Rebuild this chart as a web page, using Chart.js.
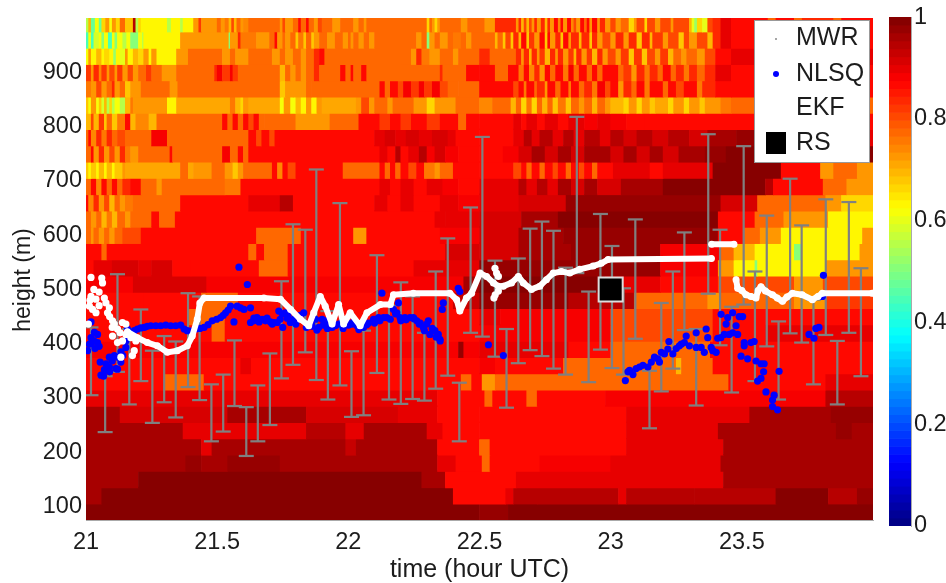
<!DOCTYPE html>
<html>
<head>
<meta charset="utf-8">
<script src="https://cdn.jsdelivr.net/npm/chart.js@4/dist/chart.umd.min.js"></script>
<style>
  html, body { margin: 0; background: #fff; overflow: hidden; }
  canvas { position: absolute; left: 0; top: 0; filter: blur(0.5px); }
</style>
</head>
<body>
<canvas id="mainChart" width="946" height="583"></canvas>
<canvas id="colorbar" width="946" height="583"></canvas>
<script>
const xTicks = [21, 21.5, 22, 22.5, 23, 23.5];
const yTicks = [100, 200, 300, 400, 500, 600, 700, 800, 900];
const colorbarTicks = [0, 0.2, 0.4, 0.6, 0.8, 1];
const legendNames = ['MWR', 'NLSQ', 'EKF', 'RS'];

/* Heatmap rows: each run is [end time, value], a run starts where the last one ended */
const row990 = [[21.01,.55],[21.02,.7],[21.035,.47],[21.05,.62],[21.06,.47],[21.075,.66],[21.09,.72],[21.1,.62],[21.115,.72],[21.13,.66],[21.15,.78],[21.18,.68],[21.19,.95],[21.2,.55],[21.21,.66],[21.31,.63],[21.325,.55],[21.36,.63],[21.37,.56],[21.41,.63],[21.43,.72],[21.44,.82],[21.5,.72],[21.515,.78],[21.53,.72],[21.545,.76],[21.555,.7],[21.565,.8],[21.575,.7],[21.59,.78],[21.6,.72],[21.62,.74],[21.74,.78],[21.75,.72],[21.76,.8],[21.79,.72],[21.81,.78],[21.82,.86],[21.84,.78],[21.85,.86],[21.87,.78],[21.885,.72],[21.9,.8],[21.94,.78],[21.97,.72],[22.02,.78],[22.04,.72],[22.06,.78],[22.07,.72],[22.3,.78],[22.31,.66],[22.32,.78],[22.33,.72],[22.34,.66],[22.35,.72],[22.43,.78],[22.455,.72],[22.52,.78],[22.56,.72],[22.64,.84],[22.65,.72],[22.66,.84],[22.67,.7],[22.68,.8],[22.69,.7],[22.7,.8],[22.71,.72],[22.72,.84],[22.735,.72],[22.75,.84],[22.76,.7],[22.77,.84],[22.785,.72],[22.8,.86],[22.81,.74],[22.82,.86],[22.835,.72],[22.85,.86],[22.86,.74],[22.87,.8],[22.885,.72],[22.9,.86],[22.91,.78],[22.92,.86],[22.93,.72],[22.95,.86],[22.96,.72],[22.98,.84],[23.0,.72],[23.02,.8],[23.04,.72],[23.07,.78],[23.09,.66],[23.1,.72],[23.13,.8],[23.14,.66],[23.17,.8],[23.19,.72],[23.23,.8],[23.24,.72],[23.3,.8],[23.31,.7],[23.32,.6],[23.33,.52],[23.35,.66],[23.37,.6],[23.39,.8],[23.42,.84],[23.46,.9],[23.6,.86],[23.63,.78],[23.7,.86],[23.73,.78],[23.85,.84],[23.88,.78],[24,.86]];
const row960 = [[21.01,.45],[21.02,.62],[21.03,.45],[21.05,.58],[21.06,.62],[21.07,.5],[21.085,.62],[21.1,.45],[21.11,.62],[21.12,.5],[21.14,.62],[21.155,.55],[21.17,.62],[21.2,.5],[21.215,.62],[21.22,.56],[21.36,.63],[21.545,.72],[21.55,.5],[21.58,.72],[21.59,.84],[21.65,.76],[21.7,.72],[21.72,.78],[21.73,.86],[21.75,.72],[21.76,.78],[21.78,.72],[21.8,.78],[21.81,.68],[21.83,.76],[21.84,.68],[21.86,.78],[21.87,.68],[21.89,.72],[21.92,.78],[21.95,.72],[21.98,.78],[22,.72],[22.01,.78],[22.02,.72],[22.04,.78],[22.06,.72],[22.08,.78],[22.1,.72],[22.12,.78],[22.26,.78],[22.28,.72],[22.3,.78],[22.31,.5],[22.33,.72],[22.35,.78],[22.38,.72],[22.4,.78],[22.43,.76],[22.45,.78],[22.47,.72],[22.56,.78],[22.57,.7],[22.59,.78],[22.6,.68],[22.62,.8],[22.63,.68],[22.65,.84],[22.66,.7],[22.68,.86],[22.69,.68],[22.71,.82],[22.73,.72],[22.75,.86],[22.76,.68],[22.77,.86],[22.79,.72],[22.81,.84],[22.82,.68],[22.84,.86],[22.85,.72],[22.88,.84],[22.89,.7],[22.92,.84],[22.93,.68],[22.95,.84],[22.97,.72],[23,.8],[23.02,.72],[23.05,.84],[23.07,.72],[23.1,.84],[23.12,.68],[23.15,.84],[23.16,.7],[23.2,.82],[23.22,.72],[23.26,.8],[23.28,.68],[23.3,.8],[23.33,.72],[23.37,.8],[23.39,.7],[23.42,.84],[23.46,.9],[24,.86]];
const row930 = [[21.01,.62],[21.02,.72],[21.04,.63],[21.06,.7],[21.07,.63],[21.09,.66],[21.105,.63],[21.115,.52],[21.13,.63],[21.15,.6],[21.16,.72],[21.18,.63],[21.2,.7],[21.22,.66],[21.24,.72],[21.25,.63],[21.27,.72],[21.345,.63],[21.39,.72],[21.52,.78],[21.55,.72],[21.57,.78],[21.62,.72],[21.71,.78],[21.74,.72],[21.76,.78],[21.79,.72],[21.82,.78],[21.84,.72],[21.87,.78],[21.89,.84],[21.91,.86],[22.2,.78],[22.24,.78],[22.26,.72],[22.28,.84],[22.31,.76],[22.35,.72],[22.4,.78],[22.42,.72],[22.5,.78],[22.54,.84],[22.64,.78],[22.66,.84],[22.67,.72],[22.69,.84],[22.7,.7],[22.72,.84],[22.73,.72],[22.75,.82],[22.77,.7],[22.79,.84],[22.8,.72],[22.82,.84],[22.84,.72],[22.86,.82],[22.87,.7],[22.89,.84],[22.91,.72],[22.93,.82],[22.95,.7],[22.97,.84],[22.99,.72],[23.02,.8],[23.04,.72],[23.07,.82],[23.09,.68],[23.12,.82],[23.14,.68],[23.17,.8],[23.19,.72],[23.22,.82],[23.24,.7],[23.27,.78],[23.29,.72],[23.33,.78],[23.36,.72],[23.4,.8],[23.46,.86],[24,.9]];
const row900 = [[21.02,.82],[21.03,.72],[21.05,.84],[21.06,.74],[21.08,.82],[21.09,.72],[21.11,.8],[21.12,.72],[21.14,.82],[21.16,.72],[21.18,.8],[21.2,.72],[21.23,.78],[21.25,.82],[21.29,.78],[21.345,.72],[21.49,.78],[21.5,.84],[21.52,.88],[21.55,.82],[21.56,.88],[21.58,.82],[21.74,.78],[21.76,.7],[21.78,.78],[21.8,.72],[21.82,.78],[21.84,.72],[21.87,.78],[21.89,.84],[21.97,.78],[21.99,.86],[22.01,.78],[22.02,.86],[22.05,.78],[22.07,.86],[22.35,.78],[22.36,.84],[22.45,.78],[22.5,.86],[22.56,.86],[22.61,.78],[22.65,.86],[22.67,.76],[22.69,.86],[22.71,.74],[22.73,.84],[22.75,.72],[22.77,.86],[22.79,.78],[22.82,.86],[22.84,.76],[22.86,.88],[22.88,.78],[22.91,.86],[22.93,.78],[22.95,.86],[22.97,.78],[23.03,.86],[23.05,.78],[23.08,.82],[23.1,.72],[23.13,.84],[23.15,.76],[23.18,.84],[23.2,.78],[23.23,.86],[23.25,.78],[23.28,.84],[23.3,.76],[23.33,.84],[23.36,.78],[23.4,.84],[23.46,.9],[24,.86]];
const row870 = [[21.02,.76],[21.04,.72],[21.06,.8],[21.08,.72],[21.1,.78],[21.11,.84],[21.13,.72],[21.15,.78],[21.17,.68],[21.21,.72],[21.32,.78],[21.35,.72],[21.74,.78],[21.76,.68],[21.79,.72],[21.84,.72],[21.86,.78],[22.12,.78],[22.14,.86],[22.16,.78],[22.19,.86],[22.21,.8],[22.24,.88],[22.27,.82],[22.29,.88],[22.32,.82],[22.35,.88],[22.38,.8],[22.42,.78],[22.5,.78],[22.63,.86],[22.65,.8],[22.67,.86],[22.68,.76],[22.71,.86],[22.72,.78],[22.75,.84],[22.76,.72],[22.79,.86],[22.81,.78],[22.84,.86],[22.85,.76],[22.88,.86],[22.9,.78],[22.93,.84],[22.95,.76],[22.98,.88],[23,.8],[23.03,.86],[23.05,.72],[23.08,.84],[23.1,.78],[23.13,.86],[23.15,.76],[23.2,.86],[23.22,.78],[23.25,.86],[23.28,.8],[23.33,.86],[23.35,.76],[23.4,.84],[23.46,.86],[24,.86]];
const row840 = [[21.01,.68],[21.02,.62],[21.04,.72],[21.05,.62],[21.06,.68],[21.07,.58],[21.08,.7],[21.09,.56],[21.1,.66],[21.11,.55],[21.13,.62],[21.15,.56],[21.17,.7],[21.18,.76],[21.31,.72],[21.345,.63],[21.55,.71],[21.57,.76],[21.59,.7],[21.6,.66],[21.62,.72],[21.74,.71],[21.755,.62],[21.78,.72],[21.8,.62],[21.82,.7],[21.84,.63],[21.86,.72],[21.88,.64],[21.9,.72],[22.03,.71],[22.05,.72],[22.08,.8],[22.1,.72],[22.15,.78],[22.17,.72],[22.25,.78],[22.3,.72],[22.33,.66],[22.41,.72],[22.5,.78],[22.55,.74],[22.62,.78],[22.64,.7],[22.66,.78],[22.68,.66],[22.7,.76],[22.72,.66],[22.74,.78],[22.76,.7],[22.78,.78],[22.8,.68],[22.83,.76],[22.85,.68],[22.88,.78],[22.9,.72],[22.93,.78],[22.95,.7],[22.98,.78],[23,.72],[23.05,.7],[23.07,.66],[23.1,.72],[23.12,.66],[23.15,.72],[23.17,.68],[23.22,.71],[23.24,.66],[23.28,.72],[23.3,.66],[23.34,.72],[23.36,.68],[23.42,.72],[23.46,.76],[24,.78]];
const row810 = [[21.02,.7],[21.03,.8],[21.05,.7],[21.07,.82],[21.08,.68],[21.1,.78],[21.12,.68],[21.15,.76],[21.17,.86],[21.19,.7],[21.24,.74],[21.27,.7],[21.52,.78],[21.54,.86],[21.56,.78],[21.58,.86],[21.6,.78],[21.62,.86],[21.64,.8],[21.66,.86],[21.68,.78],[21.8,.78],[21.82,.72],[21.93,.72],[22.04,.78],[22.12,.86],[22.16,.82],[22.2,.86],[22.24,.82],[22.3,.86],[22.35,.82],[22.42,.86],[22.45,.78],[22.5,.86],[22.63,.86],[22.66,.9],[22.68,.86],[22.72,.9],[22.75,.86],[22.8,.9],[22.84,.86],[22.9,.9],[22.95,.88],[23,.9],[23.06,.88],[23.13,.86],[24,.86]];
const row780 = [[21.01,.78],[21.02,.86],[21.04,.74],[21.06,.84],[21.08,.76],[21.1,.84],[21.12,.78],[21.15,.8],[21.25,.78],[21.31,.88],[21.62,.78],[21.65,.86],[21.67,.8],[21.7,.86],[21.72,.8],[21.74,.86],[22.1,.86],[22.14,.9],[22.18,.92],[22.22,.9],[22.27,.92],[22.32,.9],[22.38,.92],[22.41,.9],[22.5,.86],[22.63,.86],[22.67,.9],[22.7,.94],[22.73,.9],[22.78,.94],[22.82,.9],[22.86,.94],[22.9,.9],[22.96,.94],[23,.9],[23.05,.94],[23.1,.92],[23.16,.94],[23.22,.92],[23.3,.94],[23.37,.92],[23.48,.96],[23.6,.98],[24,.9]];
const row750 = [[21.02,.78],[21.03,.86],[21.05,.72],[21.07,.84],[21.09,.72],[21.11,.8],[21.13,.72],[21.15,.84],[21.17,.76],[21.2,.72],[21.32,.78],[21.33,.86],[21.52,.78],[21.55,.88],[21.58,.78],[21.6,.86],[21.62,.78],[22.12,.86],[22.15,.9],[22.18,.86],[22.2,.94],[22.23,.86],[22.27,.9],[22.3,.94],[22.33,.88],[22.37,.92],[22.42,.88],[22.5,.86],[22.59,.86],[22.65,.88],[22.7,.92],[22.75,.96],[22.8,.92],[22.85,.96],[22.9,.92],[23,.96],[23.05,.92],[23.1,.96],[23.15,.92],[23.2,.96],[23.26,.92],[23.36,.96],[23.44,.98],[24,1]];
const row720 = [[21.01,.68],[21.02,.64],[21.04,.68],[21.05,.63],[21.07,.7],[21.08,.64],[21.1,.7],[21.11,.64],[21.14,.68],[21.15,.72],[21.36,.71],[21.39,.78],[21.41,.71],[21.48,.72],[21.53,.78],[21.56,.72],[21.58,.68],[21.6,.72],[21.62,.78],[21.71,.78],[21.73,.86],[21.75,.74],[21.77,.86],[21.8,.8],[21.98,.86],[22.12,.78],[22.14,.86],[22.16,.78],[22.18,.86],[22.2,.78],[22.23,.86],[22.26,.8],[22.29,.86],[22.33,.75],[22.35,.72],[22.4,.78],[22.5,.86],[22.63,.86],[22.66,.8],[22.68,.86],[22.7,.78],[22.73,.86],[22.75,.78],[22.78,.86],[22.8,.8],[22.83,.86],[22.85,.78],[22.88,.86],[22.9,.8],[22.93,.86],[22.95,.78],[23.01,.86],[23.15,.9],[23.2,.86],[23.39,.9],[23.65,1],[23.8,.86],[23.85,.72],[23.94,.78],[24,.72]];
const row690 = [[21.02,.78],[21.04,.86],[21.06,.74],[21.08,.86],[21.1,.78],[21.12,.86],[21.14,.78],[21.17,.84],[21.21,.86],[21.27,.78],[21.29,.72],[21.53,.78],[21.59,.76],[22.12,.86],[22.16,.9],[22.2,.86],[22.25,.9],[22.3,.86],[22.36,.9],[22.42,.88],[22.5,.86],[22.65,.9],[22.68,.94],[22.72,.9],[22.76,.94],[22.8,.9],[22.85,.96],[22.9,.92],[22.95,.96],[23.04,.92],[23.2,.96],[23.59,1],[23.62,.94],[23.81,.86],[23.9,.78],[24,.72]];
const row660 = [[21.01,.86],[21.03,.74],[21.05,.84],[21.07,.72],[21.09,.8],[21.11,.7],[21.13,.78],[21.15,.72],[21.18,.76],[21.36,.78],[21.62,.86],[21.74,.9],[21.79,.94],[22.1,.86],[22.15,.9],[22.2,.86],[22.25,.9],[22.35,.86],[22.42,.9],[22.5,.88],[22.65,.9],[22.83,.92],[23.42,.98],[23.56,.92],[23.82,.78],[23.88,.72],[24,.66]];
const row630 = [[21.02,.78],[21.04,.72],[21.06,.78],[21.08,.7],[21.1,.76],[21.12,.7],[21.15,.78],[21.17,.72],[21.25,.78],[21.28,.86],[21.34,.78],[22.33,.86],[22.37,.9],[22.5,.9],[22.66,.92],[22.8,.96],[23.41,.99],[23.55,.86],[23.66,.78],[23.83,.72],[24,.63]];
const row600 = [[21.02,.78],[21.03,.72],[21.05,.78],[21.07,.72],[21.09,.78],[21.11,.72],[21.14,.78],[21.21,.8],[21.65,.86],[21.82,.78],[22.02,.86],[22.07,.72],[22.35,.86],[22.5,.89],[22.65,.92],[22.82,.96],[23.41,.98],[23.51,.86],[23.57,.78],[23.65,.72],[23.96,.63],[24,.72]];
const row570 = [[21.06,.86],[21.08,.78],[21.62,.86],[21.65,.78],[21.68,.86],[21.77,.78],[22.37,.86],[22.5,.91],[22.65,.92],[22.85,.96],[23.19,.98],[23.42,.88],[23.47,.78],[23.55,.7],[23.7,.63],[23.73,.5],[23.95,.63],[24,.72]];
const row540 = [[21.03,.86],[21.1,.9],[21.2,.92],[21.25,.9],[21.33,.92],[21.4,.86],[21.66,.86],[21.77,.78],[22.25,.86],[22.5,.9],[23.19,.98],[23.41,.88],[23.47,.72],[23.55,.63],[23.56,.5],[23.82,.63],[24,.72]];
const row510 = [[21.18,.88],[21.46,.92],[22.44,.88],[22.5,.96],[22.98,1],[23.19,.9],[23.41,.86],[23.47,.8],[23.7,.8],[23.81,.72],[24,.8]];
const row480 = [[21.22,.86],[21.44,.86],[21.58,.78],[22.4,.86],[22.5,.93],[22.84,.97],[23.09,.95],[23.37,.78],[23.42,.72],[23.7,.78],[23.82,.72],[24,.82]];
const row450 = [[21.39,.86],[21.53,.78],[22.5,.86],[22.58,.9],[23.0,.89],[23.39,.8],[24,.86]];
const row420 = [[21.48,.86],[21.53,.78],[22.5,.86],[23.0,.89],[23.39,.8],[23.59,.86],[24,.9]];
const row390 = [[22.42,.89],[22.44,.98],[22.5,.89],[22.84,.9],[23.0,.86],[23.38,.78],[24,.86]];
const row360 = [[21.59,.86],[21.63,.9],[22.5,.86],[22.56,.89],[22.82,.86],[23.25,.78],[23.27,.7],[23.39,.78],[24,.86]];
const row330 = [[21.3,.86],[21.45,.78],[22.43,.86],[22.47,.78],[22.51,.86],[22.56,.72],[23.45,.78],[23.82,.86],[24,.9]];
const row300 = [[22.34,.9],[22.52,.86],[22.55,.78],[22.68,.86],[22.72,.78],[22.98,.86],[23.82,.89],[24,.95]];
const row270 = [[21.13,.96],[21.54,.92],[21.84,.96],[22.19,.92],[22.34,.9],[22.5,.86],[23.06,.86],[23.53,.9],[23.84,.96],[24,.98]];
const row240 = [[21.37,.96],[21.84,.9],[21.99,.94],[22.06,.9],[22.3,.96],[22.36,.9],[22.5,.86],[23.06,.86],[23.41,.9],[23.86,.96],[23.92,.98],[24,.96]];
const row210 = [[21.44,.96],[21.48,.9],[21.99,.96],[22.03,.93],[22.34,.96],[22.5,.86],[22.54,.78],[23.06,.86],[23.43,.9],[24,.96]];
const row180 = [[21.38,.96],[21.44,.98],[21.54,.96],[21.74,.98],[22.34,.96],[22.41,.9],[22.51,.86],[22.54,.78],[22.73,.86],[23,.88],[23.42,.9],[24,.96]];
const row150 = [[21.2,.96],[22.28,1],[22.37,.96],[22.64,.86],[23.43,.9],[24,.96]];
const row120 = [[21.06,.96],[22.4,1],[22.6,.86],[22.63,.9],[22.72,.95],[23.03,.94],[23.06,.9],[23.32,.94],[23.63,.95],[23.83,.99],[23.94,.95],[24,.98]];
const row90 = [[22.5,1],[22.61,.98],[24,1]];

const rowHeights = [90, 120, 150, 180, 210, 240, 270, 300, 330, 360, 390, 420, 450, 480, 510, 540, 570, 600, 630, 660, 690, 720, 750, 780, 810, 840, 870, 900, 930, 960, 990];
const rowRuns = [row90, row120, row150, row180, row210, row240, row270, row300, row330, row360, row390, row420, row450, row480, row510, row540, row570, row600, row630, row660, row690, row720, row750, row780, row810, row840, row870, row900, row930, row960, row990];

/* MWR: scattered dots, then the line */
const mwrDotTime = [21.019,21.06,21.063,21.05,21.019,21.038,21.07,21.076,21.089,21.013,21.038,21.025,21.082,21.009,21.101,21.108,21.139,21.152,21.12,21.101,21.12,21.139,21.152,21.171,21.19,21.184,21.177,21.133,22.559,22.565,22.572,22.555,22.56,22.572,21.03,21.015,21.05,21.09,21.1,21.13];
const mwrDotHeight = [522,521,512,495,487,482,484,475,466,469,457,463,457,436,442,436,439,436,427,414,402,405,417,411,405,387,378,375,539,530,524,484,490,497,500,480,470,450,430,420];
const mwrLineTime = [21.158,21.196,21.234,21.272,21.31,21.348,21.386,21.405,21.424,21.434,21.45,21.678,21.741,21.78,21.817,21.849,21.868,21.893,21.912,21.938,21.963,21.982,22.007,22.045,22.071,22.122,22.16,22.172,22.248,22.387,22.413,22.425,22.45,22.47,22.502,22.527,22.553,22.572,22.591,22.622,22.648,22.667,22.698,22.73,22.755,22.781,22.812,22.844,22.882,22.933,22.964,22.99,23.384,23.385,23.385,23.47,23.475,23.478,23.484,23.5,23.516,23.535,23.554,23.562,23.573,23.59,23.617,23.635,23.655,23.672,23.693,23.73,23.769,23.79,23.807,23.997];
const mwrLineHeight = [422,411,402,396,384,387,396,414,445,475,484,484,482,463,445,433,457,487,469,436,472,436,457,433,457,472,472,490,493,493,481,460,484,493,530,524,512,506,506,512,524,512,500,506,518,530,533,530,537,543,548,555,557,null,583,583,null,518,502,498,490,487,484,498,505,497,490,484,478,486,493,490,481,487,493,493];

const nlsqTime = [21.006,21.019,21.032,21.019,21.044,21.013,21.044,21.034,21.054,21.076,21.089,21.108,21.123,21.133,21.114,21.089,21.076,21.057,21.067,21.12,21.133,21.152,21.152,21.158,21.171,21.184,21.196,21.209,21.222,21.234,21.247,21.266,21.285,21.304,21.323,21.342,21.361,21.374,21.386,21.399,21.418,21.434,21.45,21.465,21.481,21.498,21.513,21.523,21.532,21.542,21.551,21.576,21.564,21.589,21.602,21.627,21.615,21.583,21.627,21.64,21.652,21.672,21.684,21.703,21.716,21.729,21.735,21.748,21.76,21.767,21.779,21.792,21.805,21.817,21.83,21.849,21.862,21.875,21.887,21.9,21.912,21.925,21.938,21.963,21.976,21.995,22.014,22.033,22.045,22.058,22.077,22.096,22.115,22.128,22.134,22.147,22.172,22.185,22.191,22.197,22.216,22.235,22.248,22.261,22.274,22.286,22.299,22.305,22.311,22.33,22.343,22.349,22.362,22.358,22.419,22.425,22.534,22.591,23.056,23.066,23.072,23.085,23.097,23.11,23.123,23.142,23.155,23.167,23.18,23.186,23.193,23.205,23.218,23.222,23.237,23.25,23.262,23.269,23.281,23.288,23.3,23.326,23.326,23.345,23.357,23.364,23.37,23.383,23.389,23.402,23.408,23.42,23.421,23.433,23.44,23.446,23.452,23.465,23.465,23.478,23.484,23.49,23.497,23.503,23.509,23.509,23.522,23.535,23.547,23.554,23.56,23.573,23.573,23.583,23.585,23.592,23.617,23.617,23.623,23.636,23.642,23.756,23.775,23.782,23.794,23.807,23.811,21.64,21.66,21.69,21.71,21.74,21.75,21.77,21.8,21.84,21.86,21.88,21.905,21.92,21.95,21.98,22,22.02,22.04,22.07,22.1,22.12,22.16,22.18,22.2,22.22,22.25,22.27,22.29,22.32,22.335,22.35,21.02,21.03,21.05,21.1,21.07,21.09,21.14];
const nlsqHeight = [387,440,421,411,417,399,402,391,366,363,375,378,375,366,354,357,351,342,340,353,385,393,405,427,417,424,427,429,430,432,433,433,433,434,433,433,434,427,424,423,427,428,430,435,442,445,448,452,457,462,469,469,440,466,463,466,509,541,439,442,448,445,442,440,439,439,460,455,457,447,439,445,450,452,457,436,432,445,430,445,442,439,430,436,439,439,436,433,430,430,438,445,448,493,448,448,463,457,475,448,448,448,448,442,438,430,436,442,417,424,417,408,475,463,502,496,398,378,332,348,351,343,354,357,360,357,366,375,372,366,384,381,390,404,381,391,396,399,402,414,396,420,393,393,384,427,411,393,387,384,410,411,454,417,436,448,417,457,420,433,417,450,377,450,402,396,372,402,404,368,331,363,336,348,363,311,296,284,305,278,349,417,410,428,430,487,526,447,440,447,436,445,430,452,436,430,438,425,434,428,433,428,434,440,426,435,438,442,445,455,442,444,446,436,424,428,412,405,400,405,395,368,352,348,378];

const ekfTime = [21.019,21.073,21.12,21.165,21.209,21.253,21.298,21.342,21.389,21.433,21.478,21.523,21.566,21.611,21.655,21.701,21.745,21.789,21.836,21.878,21.922,21.968,22.012,22.058,22.109,22.155,22.2,22.245,22.29,22.333,22.379,22.423,22.466,22.511,22.559,22.603,22.648,22.693,22.738,22.782,22.828,22.871,22.916,22.961,23.005,23.049,23.094,23.148,23.193,23.237,23.281,23.326,23.372,23.417,23.461,23.507,23.55,23.595,23.64,23.684,23.728,23.773,23.82,23.864,23.908,23.954];
const ekfLow = [305,237,348,288,331,254,292,264,320,296,220,238,285,193,220,250,336,361,384,333,297,323,265,268,346,297,289,298,295,317,341,220,420,413,376,282,364,388,377,354,343,530,329,389,355,343,409,244,312,354,425,286,492,397,310,472,331,395,297,419,402,325,416,288,420,340];
const ekfHigh = [430,340,528,427,463,387,414,404,493,487,325,343,406,283,323,382,515,620,610,721,460,659,386,424,563,470,513,487,420,533,594,328,651,781,553,427,557,612,625,608,540,818,496,639,580,502,629,350,475,533,605,427,786,610,468,764,533,636,441,704,618,481,666,405,661,539];

const rsTime = [23];
const rsHeight = [500];

/* Same ramp as a 64 level jet colormap */
function jet(v) {
  const level = (Math.min(Math.floor(v * 64), 63) + 0.5) / 64;
  const ramp = c => Math.round(255 * Math.max(0, Math.min(1, c)));
  const r = ramp(Math.min(4 * level - 1.5, -4 * level + 4.5));
  const g = ramp(Math.min(4 * level - 0.5, -4 * level + 3.5));
  const b = ramp(Math.min(4 * level + 0.5, -4 * level + 2.5));
  return `rgb(${r},${g},${b})`;
}

const heatCells = [];
rowRuns.forEach((runs, i) => {
  let start = 21;
  runs.forEach(run => {
    heatCells.push({ x: [start, run[0]], y: rowHeights[i], v: run[1] });
    start = run[0];
  });
});

const ekfPoints = [];
ekfTime.forEach((t, i) => {
  ekfPoints.push({ x: t, y: ekfLow[i] }, { x: t, y: ekfHigh[i] }, { x: t, y: null });
});

const toPoints = (xs, ys) => xs.map((x, i) => ({ x: x, y: ys[i] }));

const textColor = '#1c1c1c';
const fontFamily = '"Liberation Sans", Arial, sans-serif';

/* Legend box in the top right of the plot, and the y title which sits below the axis middle */
const legendBox = {
  id: 'legendBox',
  afterDatasetsDraw(chart) {
    const c = chart.ctx;
    c.save();
    c.fillStyle = '#fff';
    c.strokeStyle = '#999';
    c.lineWidth = 1;
    c.fillRect(754, 20, 115, 142);
    c.strokeRect(754.5, 20.5, 115, 142);
    c.fillStyle = '#888';
    c.beginPath(); c.arc(776, 39, 1, 0, 7); c.fill();
    c.fillStyle = '#0000ff';
    c.beginPath(); c.arc(776, 74, 3, 0, 7); c.fill();
    c.fillStyle = '#000';
    c.fillRect(766, 132, 20, 22);
    c.fillStyle = textColor;
    c.font = '25px ' + fontFamily;
    c.textBaseline = 'middle';
    [38, 74, 108, 143].forEach((y, i) => c.fillText(legendNames[i], 796, y));
    c.font = '23px ' + fontFamily;
    c.translate(24, 280);
    c.rotate(-Math.PI / 2);
    c.textAlign = 'center';
    c.fillText('height (m)', 0, 0);
    c.restore();
  }
};

new Chart(document.getElementById('mainChart'), {
  type: 'scatter',
  data: {
    datasets: [
      { type: 'bar', label: 'heat', data: heatCells, indexAxis: 'y', grouped: false, barThickness: 17, backgroundColor: ctx => jet(ctx.raw.v), order: 6 },
      { label: 'EKF', data: ekfPoints, showLine: true, borderColor: '#808080', borderWidth: 2.2, pointStyle: 'line', pointRadius: 7.5, pointBorderWidth: 2.2, pointBorderColor: '#808080', order: 5 },
      { label: 'NLSQ', data: toPoints(nlsqTime, nlsqHeight), pointRadius: 3.6, backgroundColor: '#0000ff', borderColor: '#0000ff', borderWidth: 0, order: 4 },
      { label: 'MWR', data: toPoints(mwrLineTime, mwrLineHeight), showLine: true, borderColor: '#fff', borderWidth: 6, borderCapStyle: 'round', borderJoinStyle: 'round', pointRadius: 3.5, backgroundColor: '#fff', pointBorderWidth: 0, order: 3 },
      { label: 'MWR dots', data: toPoints(mwrDotTime, mwrDotHeight), pointRadius: 3.6, backgroundColor: '#fff', pointBorderWidth: 0, order: 2 },
      { label: 'RS', data: toPoints(rsTime, rsHeight), pointStyle: 'rect', pointRadius: 17, backgroundColor: '#000', borderColor: '#ddd', borderWidth: 2, order: 1 }
    ]
  },
  options: {
    responsive: false,
    animation: false,
    events: [],
    layout: { autoPadding: false, padding: { top: 12, right: 73, left: 0, bottom: 0 } },
    plugins: { legend: { display: false }, tooltip: { enabled: false } },
    scales: {
      x: {
        type: 'linear', min: 21, max: 24, offset: false, beginAtZero: false,
        afterBuildTicks: axis => { axis.ticks = xTicks.map(v => ({ value: v })); },
        afterFit: axis => { axis.height = 63; },
        border: { color: '#aaa' },
        grid: { display: false, drawTicks: false, offset: false },
        ticks: { color: textColor, font: { family: fontFamily, size: 23.5 }, maxRotation: 0, autoSkip: false, padding: 8, callback: v => String(v) },
        title: { display: true, text: 'time (hour UTC)', color: textColor, font: { family: fontFamily, size: 25 }, padding: { top: 0, bottom: -2 } }
      },
      y: {
        type: 'linear', min: 75, max: 1000, offset: false, beginAtZero: false,
        afterBuildTicks: axis => { axis.ticks = yTicks.map(v => ({ value: v })); },
        afterFit: axis => { axis.width = 86; },
        border: { color: '#aaa' },
        grid: { display: false, drawTicks: false, offset: false },
        ticks: { color: textColor, font: { family: fontFamily, size: 23.5 }, autoSkip: false, padding: 4 }
      }
    }
  },
  plugins: [legendBox]
});

/* Colorbar, one floating bar per colormap level */
const colorLevels = [];
for (let i = 0; i < 64; i++) colorLevels.push({ x: 0, y: [i / 64, (i + 1) / 64], v: (i + 0.5) / 64 });

new Chart(document.getElementById('colorbar'), {
  type: 'bar',
  data: { datasets: [{ data: colorLevels, grouped: false, barThickness: 23, backgroundColor: ctx => jet(ctx.raw.v) }] },
  options: {
    responsive: false,
    animation: false,
    events: [],
    layout: { autoPadding: false, padding: { top: 13, left: 889, right: 0, bottom: 57 } },
    plugins: { legend: { display: false }, tooltip: { enabled: false } },
    scales: {
      x: { type: 'linear', min: -0.5, max: 0.5, offset: false, display: false, grid: { display: false, offset: false } },
      y: {
        type: 'linear', position: 'right', min: 0, max: 1,
        afterBuildTicks: axis => { axis.ticks = colorbarTicks.map(v => ({ value: v })); },
        afterFit: axis => { axis.width = 35; },
        border: { color: '#aaa' },
        grid: { display: false, drawTicks: false },
        ticks: { color: textColor, font: { family: fontFamily, size: 23.5 }, autoSkip: false, padding: 3, callback: v => String(v) }
      }
    }
  }
});
</script>
</body>
</html>
